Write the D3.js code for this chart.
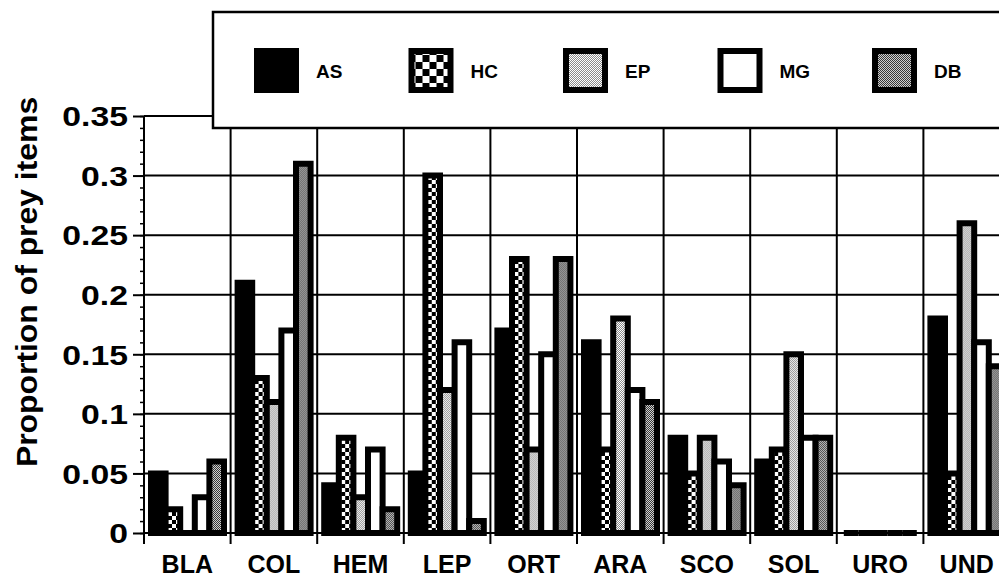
<!DOCTYPE html>
<html><head><meta charset="utf-8">
<script src="https://cdn.jsdelivr.net/npm/d3@7"></script>
<style>
html,body{margin:0;padding:0;background:#fff;}
svg{display:block;}
text{font-family:"Liberation Sans",Arial,Helvetica,sans-serif;font-weight:bold;fill:#000;}
</style></head>
<body>
<svg id="chart" width="999" height="578"></svg>
<script>
// ---- data ----
const categories = ["BLA","COL","HEM","LEP","ORT","ARA","SCO","SOL","URO","UND"];
const seriesNames = ["AS","HC","EP","MG","DB"];
const AS = [0.05,0.21,0.04,0.05,0.17,0.16,0.08,0.06,0,0.18];
const HC = [0.02,0.13,0.08,0.30,0.23,0.07,0.05,0.07,0,0.05];
const EP = [0,0.11,0.03,0.12,0.07,0.18,0.08,0.15,0,0.26];
const MG = [0.03,0.17,0.07,0.16,0.15,0.12,0.06,0.08,0,0.16];
const DB = [0.06,0.31,0.02,0.01,0.23,0.11,0.04,0.08,0,0.14];
const yTicks = [0,0.05,0.1,0.15,0.2,0.25,0.3,0.35];
const yTickLabels = ["0","0.05","0.1","0.15","0.2","0.25","0.3","0.35"];
const yMinorTicks = d3.range(0,36).map(i=>i/100);
const yTitle = "Proportion of prey items";

const seriesValues = {AS, HC, EP, MG, DB};

const svg = d3.select("#chart");
const plot = {left:144, right:1010, top:116, bottom:533};

const x = d3.scaleBand().domain(categories).range([plot.left, plot.right]).paddingInner(0).paddingOuter(0);
const xi = d3.scaleBand().domain(seriesNames).range([7, x.bandwidth()-6.6]).padding(0);
const y = d3.scaleLinear().domain([0,0.35]).range([plot.bottom, plot.top]);

// ---- patterns ----
const defs = svg.append("defs");
function checker(id, c){
  const p = defs.append("pattern").attr("id",id).attr("patternUnits","userSpaceOnUse")
    .attr("width",2*c).attr("height",2*c);
  p.append("rect").attr("width",2*c).attr("height",2*c).attr("fill","#000");
  p.append("rect").attr("x",0).attr("y",0).attr("width",c).attr("height",c).attr("fill","#fff");
  p.append("rect").attr("x",c).attr("y",c).attr("width",c).attr("height",c).attr("fill","#fff");
}
checker("hc", 4);
checker("hcL", 7);
function stipple(id, a, b){
  const p = defs.append("pattern").attr("id",id).attr("patternUnits","userSpaceOnUse")
    .attr("width",2).attr("height",2);
  p.append("rect").attr("width",2).attr("height",2).attr("fill",b);
  p.append("rect").attr("x",0).attr("y",0).attr("width",1).attr("height",1).attr("fill",a);
  p.append("rect").attr("x",1).attr("y",1).attr("width",1).attr("height",1).attr("fill",a);
}
stipple("ep", "#8a8a8a", "#ffffff");
stipple("db", "#383838", "#d0d0d0");
const fills = {AS:"#000", HC:"url(#hc)", EP:"url(#ep)", MG:"#fff", DB:"url(#db)"};
const legendFills = {AS:"#000", HC:"url(#hcL)", EP:"url(#ep)", MG:"#fff", DB:"url(#db)"};

svg.append("rect").attr("width",999).attr("height",578).attr("fill","#fff");

// ---- horizontal grid lines ----
svg.append("g").selectAll("line").data(yTicks.filter(d=>d>0)).join("line")
  .attr("x1",plot.left).attr("x2",plot.right)
  .attr("y1",d=>y(d)).attr("y2",d=>y(d))
  .attr("stroke","#000").attr("stroke-width",2);

// ---- vertical category separators ----
const seps = categories.map(c=>x(c)).concat([plot.right]);
svg.append("g").selectAll("line").data(seps).join("line")
  .attr("x1",d=>d).attr("x2",d=>d)
  .attr("y1",plot.top).attr("y2",plot.bottom+11)
  .attr("stroke","#000").attr("stroke-width",2);

// x axis line
svg.append("line").attr("x1",plot.left).attr("x2",plot.right)
  .attr("y1",plot.bottom).attr("y2",plot.bottom).attr("stroke","#000").attr("stroke-width",2);

// ---- y axis ticks ----
const yMinorAxis = d3.axisLeft(y).tickValues(yMinorTicks).tickSize(4).tickFormat("");
const gMin = svg.append("g").attr("transform",`translate(${plot.left},0)`).call(yMinorAxis);
gMin.select(".domain").remove();
gMin.selectAll("line").attr("stroke","#000").attr("stroke-width",1.5);

const yAxis = d3.axisLeft(y).tickValues(yTicks).tickSize(11).tickPadding(6)
  .tickFormat((d,i)=>yTickLabels[i]);
const gY = svg.append("g").attr("transform",`translate(${plot.left},0)`).call(yAxis);
gY.select(".domain").remove();
gY.selectAll("line").attr("stroke","#000").attr("stroke-width",2);
gY.selectAll("text").attr("font-size",27).attr("font-family",null).attr("dy","0.36em")
  .attr("x",0)
  .attr("transform","translate(-16,0) scale(1.25,1)");

// y axis line
svg.append("line").attr("x1",plot.left).attr("x2",plot.left)
  .attr("y1",plot.top).attr("y2",plot.bottom+11).attr("stroke","#000").attr("stroke-width",2);

// ---- bars ----
const sw = 6;
const groups = svg.append("g").selectAll("g").data(categories).join("g")
  .attr("transform",c=>`translate(${x(c)},0)`);
groups.selectAll("path").data((c,ci)=>seriesNames.map(s=>({s, v:seriesValues[s][ci]}))).join("path")
  .attr("d",d=>{
    const x0 = xi(d.s), x1 = xi(d.s)+xi.bandwidth();
    const y0 = y(0), y1 = y(d.v);
    return `M${x0},${y0}H${x1}V${y1}H${x0}Z`;
  })
  .attr("fill",d=>fills[d.s])
  .attr("stroke","#000").attr("stroke-width",sw).attr("stroke-linejoin","miter");

// ---- x axis labels ----
const xAxis = d3.axisBottom(x).tickSize(0).tickPadding(22);
const gX = svg.append("g").attr("transform",`translate(0,${plot.bottom})`).call(xAxis);
gX.select(".domain").remove();
gX.selectAll("text").attr("font-size",25).attr("font-family",null).attr("dy","0.71em");

// ---- y title ----
svg.append("text").attr("transform","translate(37,282) rotate(-90) scale(1.1,1)")
  .attr("text-anchor","middle").attr("font-size",29).text(yTitle);

// ---- legend ----
const lg = svg.append("g");
lg.append("rect").attr("x",213).attr("y",12).attr("width",820).attr("height",116)
  .attr("fill","#fff").attr("stroke","#000").attr("stroke-width",2.5);
const lx = d3.scalePoint().domain(seriesNames).range([254, 872]);
const items = lg.selectAll("g.item").data(seriesNames).join("g").attr("class","item")
  .attr("transform",d=>`translate(${lx(d)},48)`);
items.append("rect").attr("x",3).attr("y",3).attr("width",39).attr("height",39)
  .attr("fill",d=>legendFills[d]).attr("stroke","#000").attr("stroke-width",6);
items.append("text").attr("x",62).attr("y",30).attr("font-size",19).text(d=>d);
</script>
</body></html>
